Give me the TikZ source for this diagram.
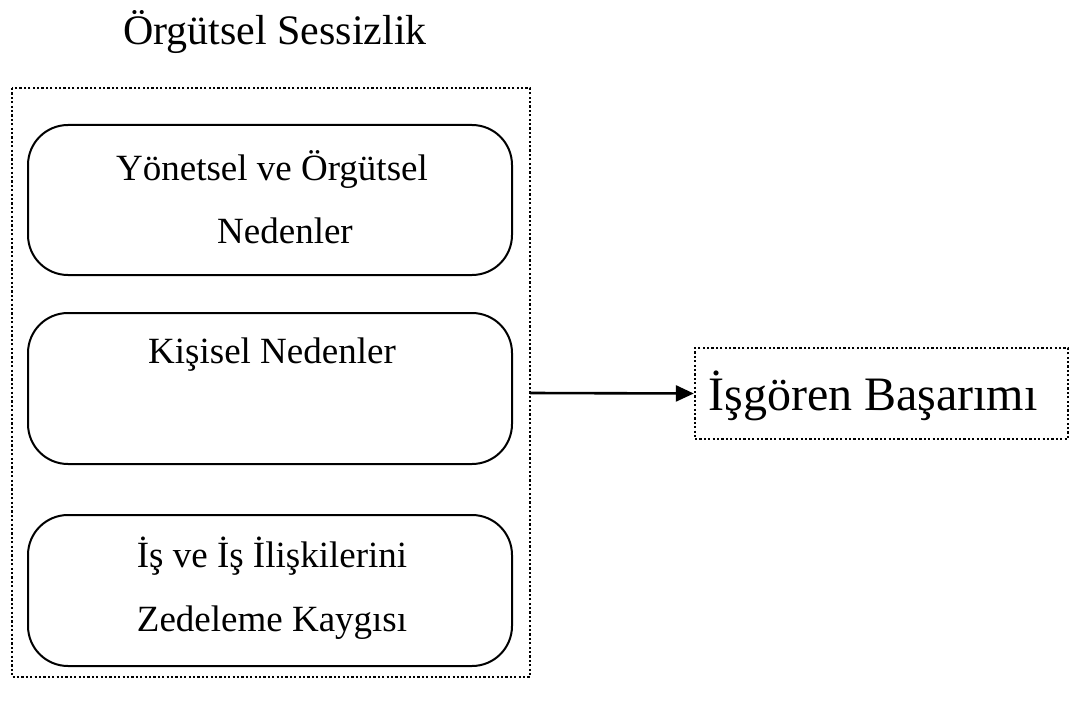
\documentclass[tikz,border=0pt]{standalone}
\usepackage{fontspec}
\setmainfont{Liberation Serif}
\usetikzlibrary{arrows.meta}
\begin{document}
\begin{tikzpicture}[x=1pt,y=-1pt,
  dotbox/.style={draw,line width=2.4pt,dash pattern=on 2.2pt off 2.2pt},
  causebox/.style={draw,line width=2pt,rounded corners=40pt},
  label/.style={font=\fontsize{37}{40}\selectfont,anchor=base,inner sep=0pt},
  heading/.style={font=\fontsize{42}{46}\selectfont,anchor=base,inner sep=0pt},
  link/.style={line width=2.6pt,-{Triangle[length=18pt,width=16pt]}}]
\useasboundingbox (0,0) rectangle (1073,706);
% title
\node[heading] (title) at (275,45) {Örgütsel Sessizlik};
% outer dotted frame
\draw[dotbox] (12,88) rectangle (530,677);
\coordinate (frameE) at (530,393);
% the three groups of causes
\draw[causebox] (28,125) rectangle (512,275);
\draw[causebox] (28,313) rectangle (512,464);
\draw[causebox] (28,515) rectangle (512,666);
\node[label] (c1a) at (272,180) {Yönetsel ve Örgütsel};
\node[label] (c1b) at (285,243) {Nedenler};
\node[label] (c2) at (272,363) {Kişisel Nedenler};
\node[label] (c3a) at (272,567) {İş ve İş İlişkilerini};
\node[label] (c3b) at (272,631) {Zedeleme Kaygısı};
% outcome
\node[dotbox,minimum width=373pt,minimum height=91pt,inner sep=0pt] (out) at (881.5,393.5) {};
\node[heading,font=\fontsize{48}{52}\selectfont] (outtext) at (873,410) {İşgören Başarımı};
\draw[link] (frameE) -- (out.west);
\end{tikzpicture}
\end{document}
